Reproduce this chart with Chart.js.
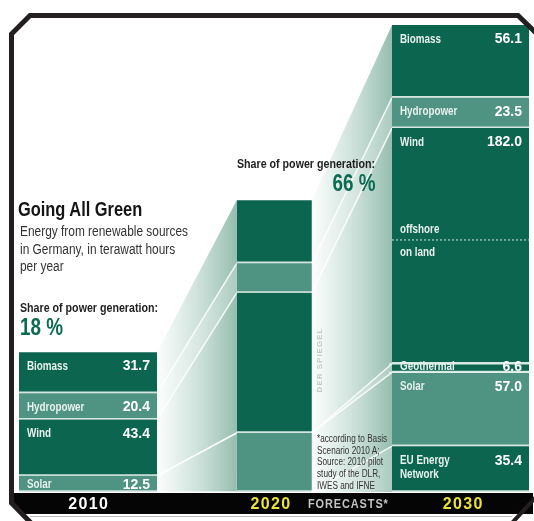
<!DOCTYPE html>
<html lang="en">
<head>
<meta charset="UTF-8">
<title>Going All Green</title>
<script src="https://cdn.jsdelivr.net/npm/chart.js"></script>
<style>
  html, body { margin: 0; padding: 0; background: #fff; }
  body { width: 534px; height: 521px; overflow: hidden; position: relative;
         font-family: "Liberation Sans", Arial, sans-serif; }
  #chart { position: absolute; left: 0; top: 0; }
  .txt { position: absolute; white-space: nowrap; line-height: 1; color: #2a2a2a;
         transform-origin: 0 0; transform: scaleX(0.82); }
  #title { left: 18px; top: 199px; font-size: 20px; font-weight: bold; color: #141414; }
  #subtitle { left: 20px; top: 223px; font-size: 14px; line-height: 17.5px; color: #333; transform: scaleX(0.85); }
  .share { font-size: 13px; font-weight: bold; color: #222; }
  .pct { font-size: 23px; font-weight: bold; color: #0b6b52; }
  #share1 { left: 20px; top: 301px; }
  #pct1 { left: 20px; top: 316px; }
  #share2 { left: 237px; top: 157px; }
  #pct2 { right: 159px; top: 172px; transform-origin: 100% 0; }
  #note { left: 317px; top: 433px; font-size: 10px; line-height: 11.7px; color: #333; }
  #brand { position: absolute; left: 320px; top: 360px; transform: translate(-50%, -50%) rotate(-90deg);
           font-size: 8px; font-weight: bold; letter-spacing: 1px; color: #c3ccc8; white-space: nowrap; line-height: 1; }
</style>
</head>
<body>
<canvas id="chart" width="534" height="521"></canvas>
<div id="title" class="txt">Going All Green</div>
<div id="subtitle" class="txt">Energy from renewable sources<br>in Germany, in terawatt hours<br>per year</div>
<div id="share1" class="txt share">Share of power generation:</div>
<div id="pct1" class="txt pct"></div>
<div id="share2" class="txt share">Share of power generation:</div>
<div id="pct2" class="txt pct"></div>
<div id="note" class="txt">*according to Basis<br>Scenario 2010 A;<br>Source: 2010 pilot<br>study of the DLR,<br>IWES and IFNE</div>
<div id="brand">DER SPIEGEL</div>
<script>
// terawatt hours per year
const years = ['2010', '2020', '2030'];
const biomass = [31.7, 48.7, 56.1];
const hydropower = [20.4, 22.8, 23.5];
const wind = [43.4, 108.2, 182.0];
const windOffshore = [null, null, 86.0];
const geothermal = [null, null, 6.6];
const solar = [12.5, 45.6, 57.0];
const euNetwork = [null, null, 35.4];
const powerShare = [18, null, 66];

const dark = '#0b654f';
const light = '#4f9382';
const barWidths = [138, 75, 137];
const font = '"Liberation Sans", Arial, sans-serif';

// stack order, bottom to top
const series = [
  { name: 'EU Energy Network', lines: ['EU Energy', 'Network'], values: euNetwork, color: dark },
  { name: 'Solar', lines: ['Solar'], values: solar, color: light },
  { name: 'Geothermal', lines: ['Geothermal'], values: geothermal, color: dark },
  { name: 'Wind', lines: ['Wind'], values: wind, color: dark },
  { name: 'Hydropower', lines: ['Hydropower'], values: hydropower, color: light },
  { name: 'Biomass', lines: ['Biomass'], values: biomass, color: dark }
];

document.getElementById('pct1').textContent = powerShare[0] + ' %';
document.getElementById('pct2').textContent = powerShare[2] + ' %';

// one dataset per segment and year, so every year can get its own bar width
const datasets = [];
series.forEach((s, si) => {
  years.forEach((yr, yi) => {
    datasets.push({
      label: s.name + ' ' + yr,
      data: years.map((_, j) => (j === yi ? s.values[yi] : null)),
      backgroundColor: s.color,
      borderColor: '#d4e6df',
      borderWidth: { top: 0, left: 0, right: 0, bottom: 2 },
      borderSkipped: false,
      barThickness: barWidths[yi],
      clip: false
    });
  });
});
const dsIndex = (si, yi) => si * years.length + yi;

function edges(chart, yi) {
  const cx = chart.scales.x.getPixelForValue(yi);
  return { left: cx - barWidths[yi] / 2, right: cx + barWidths[yi] / 2, center: cx };
}

// condensed text: squeeze the normal face to 82 %
function narrowText(ctx, text, x, y) {
  ctx.fillText(text, x, y, ctx.measureText(text).width * 0.82);
}

// light green "beams" between the bars
const beams = {
  id: 'beams',
  beforeDatasetsDraw(chart) {
    const { ctx, scales: { y } } = chart;
    const bounds = years.map((_, yi) => {
      let cum = 0;
      const b = [y.getPixelForValue(0)];
      series.forEach(s => { cum += s.values[yi] || 0; b.push(y.getPixelForValue(cum)); });
      return b;
    });
    ctx.save();
    for (let a = 0; a < years.length - 1; a++) {
      const xa = edges(chart, a).right;
      const xb = edges(chart, a + 1).left;
      const ba = bounds[a], bb = bounds[a + 1];
      for (let k = 0; k < series.length; k++) {
        if (ba[k] === ba[k + 1] && bb[k] === bb[k + 1]) continue;
        const g = ctx.createLinearGradient(xa, 0, xb, 0);
        const alpha = k % 2 ? 0.66 : 0.52;
        g.addColorStop(0, 'rgba(150,195,178,0.03)');
        g.addColorStop(0.3, 'rgba(140,188,170,' + (alpha * 0.4) + ')');
        g.addColorStop(1, 'rgba(95,155,133,' + alpha + ')');
        ctx.beginPath();
        ctx.moveTo(xa, ba[k + 1]);
        ctx.lineTo(xb, bb[k + 1]);
        ctx.lineTo(xb, bb[k]);
        ctx.lineTo(xa, ba[k]);
        ctx.closePath();
        ctx.fillStyle = g;
        ctx.fill();
      }
      ctx.strokeStyle = 'rgba(255,255,255,0.85)';
      ctx.lineWidth = 1.5;
      for (let k = 1; k < series.length; k++) {
        ctx.beginPath();
        ctx.moveTo(xa, ba[k]);
        ctx.lineTo(xb, bb[k]);
        ctx.stroke();
      }
    }
    ctx.restore();
  }
};

// segment names and values inside the 2010 and 2030 bars
const segLabels = {
  id: 'segLabels',
  afterDatasetsDraw(chart) {
    const { ctx, scales: { y } } = chart;
    ctx.save();
    ctx.textBaseline = 'middle';
    [0, 2].forEach(yi => {
      const e = edges(chart, yi);
      series.forEach((s, si) => {
        const v = s.values[yi];
        if (v == null) return;
        const el = chart.getDatasetMeta(dsIndex(si, yi)).data[yi];
        const top = el.y, bottom = el.base, h = bottom - top;
        let mid = top + Math.min(14.5, h / 2 + 1);
        if (s.name === 'Geothermal') {
          mid = top + h / 2 - 1;
          ctx.strokeStyle = '#e4efeb';
          ctx.lineWidth = 1.2;
          [top, bottom].forEach(py => {
            ctx.beginPath();
            ctx.moveTo(e.left - 3, py);
            ctx.lineTo(e.right + 4, py);
            ctx.stroke();
          });
        }
        ctx.fillStyle = '#e8f1ed';
        ctx.font = 'bold 12px ' + font;
        ctx.textAlign = 'left';
        s.lines.forEach((t, i) => narrowText(ctx, t, e.left + 8, mid + i * 14));
        ctx.fillStyle = '#ffffff';
        ctx.font = 'bold 14px ' + font;
        ctx.textAlign = 'right';
        ctx.fillText(v.toFixed(1), e.right - 7, mid);

        if (s.name === 'Wind' && windOffshore[yi] != null) {
          const split = y.getPixelForValue(y.getValueForPixel(bottom) + (v - windOffshore[yi]));
          ctx.strokeStyle = '#d9e8e2';
          ctx.lineWidth = 1;
          ctx.setLineDash([2, 2]);
          ctx.beginPath();
          ctx.moveTo(e.left, split + 0.5);
          ctx.lineTo(e.right, split + 0.5);
          ctx.stroke();
          ctx.setLineDash([]);
          ctx.fillStyle = '#e8f1ed';
          ctx.font = 'bold 12px ' + font;
          ctx.textAlign = 'left';
          narrowText(ctx, 'offshore', e.left + 8, split - 10);
          narrowText(ctx, 'on land', e.left + 8, split + 13);
        }
      });
    });
    ctx.restore();
  }
};

// black year band and the bevelled frame
const frame = {
  id: 'frame',
  afterDraw(chart) {
    const { ctx, chartArea, width, height } = chart;
    const bandTop = chartArea.bottom + 1, bandBottom = bandTop + 21;
    ctx.save();
    ctx.fillStyle = '#050505';
    ctx.beginPath();
    ctx.moveTo(14, bandTop);
    ctx.lineTo(width - 1, bandTop);
    ctx.lineTo(width - 1, bandBottom);
    ctx.lineTo(25, bandBottom);
    ctx.lineTo(14, bandBottom - 11);
    ctx.closePath();
    ctx.fill();

    ctx.strokeStyle = '#b9b9b9';
    ctx.lineWidth = 1;
    ctx.beginPath();
    ctx.moveTo(30, bandBottom + 2.5);
    ctx.lineTo(width - 22, bandBottom + 2.5);
    ctx.stroke();

    ctx.strokeStyle = '#231f20';
    ctx.lineWidth = 5;
    ctx.lineJoin = 'miter';
    ctx.beginPath();
    ctx.moveTo(31, height + 2);
    ctx.lineTo(11.5, bandBottom - 11);
    ctx.lineTo(11.5, 34);
    ctx.lineTo(30, 15.5);
    ctx.lineTo(518, 15.5);
    ctx.lineTo(width + 2, 33);
    ctx.stroke();
    ctx.lineWidth = 4;
    ctx.beginPath();
    ctx.moveTo(512, height + 2);
    ctx.lineTo(width + 2, height - 24);
    ctx.stroke();

    const mid = (bandTop + bandBottom) / 2 + 1;
    const hair = String.fromCharCode(8202);
    ctx.textBaseline = 'middle';
    ctx.textAlign = 'center';
    ctx.font = 'bold 16px ' + font;
    const shift = [0, -4, 2];
    years.forEach((yr, yi) => {
      ctx.fillStyle = yi === 0 ? '#ffffff' : '#ece23a';
      ctx.fillText(yr.split('').join(hair), edges(chart, yi).center + shift[yi], mid);
    });
    ctx.fillStyle = '#c4c4c4';
    ctx.font = 'bold 12px ' + font;
    const fx = (edges(chart, 1).right + edges(chart, 2).left) / 2 - 4;
    ctx.fillText('FORECASTS*'.split('').join(hair), fx, mid, 80);
    ctx.restore();
  }
};

new Chart(document.getElementById('chart'), {
  type: 'bar',
  data: { labels: years, datasets },
  options: {
    responsive: false,
    animation: false,
    layout: { padding: { left: 88, right: 73.5, top: 25, bottom: 29 } },
    plugins: { legend: { display: false }, tooltip: { enabled: false } },
    scales: {
      x: { display: false, stacked: true, offset: false, grid: { offset: false } },
      y: { display: false, stacked: true, min: 0, max: 360.6 }
    }
  },
  plugins: [beams, segLabels, frame]
});
</script>
</body>
</html>
